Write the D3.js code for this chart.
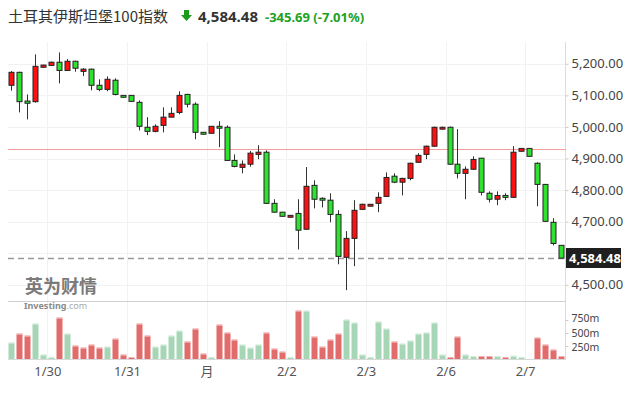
<!DOCTYPE html>
<html>
<head>
<meta charset="utf-8">
<script src="https://cdn.jsdelivr.net/npm/d3@7"></script>
<style>
  body { margin: 0; background: #fff; }
  svg { display: block; font-family: "Noto Sans", "Noto Sans CJK SC", sans-serif; }
</style>
</head>
<body>
<div id="chart"></div>
<script>
// OHLC per bar (70 bars)
const opens = [5132,5173,5082,5080,5189,5195,5205,5179,5208,5176,5183,5132,5119,5148,5100,5100,5078,4999,4986,5005,5031,5046,5103,5072,4983,4980,5002,4999,4894,4872,4882,4913,4920,4758,4730,4714,4726,4676,4815,4774,4768,4723,4587,4647,4739,4749,4758,4780,4844,4825,4837,4888,4913,4939,4993,4999,4882,4853,4866,4901,4790,4771,4783,4777,4923,4932,4885,4818,4698,4625];
const highs = [5177,5175,5103,5230,5197,5207,5236,5215,5210,5186,5185,5151,5160,5154,5101,5101,5084,5031,5008,5062,5062,5113,5105,5078,4984,5003,5018,5005,4913,4894,4924,4942,4926,4771,4731,4721,4771,4873,4831,4777,4790,4736,4670,4768,4757,4756,4793,4856,4853,4839,4887,4917,4941,5001,5001,5001,4993,4875,4907,4902,4796,4796,4790,4939,4933,4933,4888,4819,4711,4626];
const lows = [5115,5046,5024,5077,5188,5194,5138,5178,5175,5161,5116,5113,5113,5100,5093,5080,4989,4974,4983,4983,5030,5040,5062,4961,4976,4979,4936,4893,4872,4853,4874,4898,4756,4729,4716,4713,4612,4675,4742,4745,4698,4565,4483,4559,4738,4748,4730,4779,4822,4783,4831,4886,4898,4937,4992,4880,4837,4771,4864,4783,4761,4752,4768,4776,4922,4906,4749,4700,4625,4584.48];
const closes = [5173,5080,5075,5192,5196,5205,5179,5208,5186,5183,5132,5119,5151,5103,5094,5081,5002,4986,5002,5031,5043,5100,5072,4983,4977,5002,4996,4894,4875,4882,4917,4920,4758,4730,4717,4720,4673,4812,4771,4768,4723,4590,4647,4736,4755,4755,4777,4840,4825,4837,4885,4910,4939,4999,4999,4882,4853,4866,4897,4793,4771,4783,4777,4920,4932,4907,4818,4701,4631,4584.48];
// volume in millions, and bar colour (1 = red, 0 = green)
const volumes = [302,474,436,667,71,25,782,474,244,205,263,205,224,378,71,20,667,436,224,263,436,532,321,571,90,20,647,494,359,263,205,263,494,186,128,20,917,917,417,224,359,474,744,686,71,20,705,571,321,282,340,474,494,686,71,20,417,71,38,38,38,38,20,48,20,0,398,263,167,38];
const volUp = [0,1,1,0,0,0,1,0,1,1,1,1,0,1,1,1,1,1,0,0,0,0,1,1,1,0,1,1,1,0,0,0,1,1,1,0,1,0,1,1,1,1,0,0,0,0,0,0,1,0,0,0,0,0,0,1,1,0,0,1,1,0,1,0,0,0,1,1,1,1];

const xTickPos = [4.5,14.5,24.5,34.5,44.5,54.5,64.5];
const xLabels = ["1/30","1/31","月","2/2","2/3","2/6","2/7"];
const priceTicks = [4500,4600,4700,4800,4900,5000,5100,5200];
const volTicks = [250,500,750];
const prevClose = 4930.17;
const lastPrice = 4584.48;

const W = 632, H = 394;
const plotLeft = 8, plotRight = 566, plotTop = 42;

const svg = d3.select("#chart").append("svg").attr("width", W).attr("height", H);

const x = d3.scaleLinear().domain([-0.5, 69.5]).range([7.5, 565]);
const y = d3.scaleLinear().domain([4500, 5200]).range([284.8, 63.8]);
const yv = d3.scaleLinear().domain([0, 1000]).range([359, 307]);

// title
svg.append("text").attr("x", 8).attr("y", 22)
  .attr("font-family", "'Noto Sans CJK SC', sans-serif").attr("font-size", 15).attr("fill", "#333")
  .text("土耳其伊斯坦堡100指数");
svg.append("path").attr("d", "M184,10 h5 v5 h3 l-5.5,6 l-5.5,-6 h3 z").attr("fill", "#1a9c1a");
svg.append("text").attr("x", 198).attr("y", 22).attr("font-size", 15).attr("font-weight", "bold").attr("fill", "#333").text("4,584.48");
svg.append("text").attr("x", 265).attr("y", 22).attr("font-size", 13).attr("font-weight", "bold").attr("fill", "#21a121").text("-345.69 (-7.01%)");

// grid
svg.append("g").selectAll("line").data(priceTicks).join("line")
  .attr("x1", plotLeft).attr("x2", plotRight).attr("y1", d => Math.round(y(d)) + 0.5).attr("y2", d => Math.round(y(d)) + 0.5)
  .attr("stroke", "#f2f2f2");
svg.append("g").selectAll("line").data(xTickPos).join("line")
  .attr("x1", d => Math.round(x(d)) + 0.5).attr("x2", d => Math.round(x(d)) + 0.5).attr("y1", plotTop).attr("y2", 359)
  .attr("stroke", "#f2f2f2");

// panel separators
svg.append("line").attr("x1", plotLeft).attr("x2", plotRight).attr("y1", 301.5).attr("y2", 301.5).attr("stroke", "#d0d0d0");
svg.append("line").attr("x1", plotLeft).attr("x2", plotRight).attr("y1", 359.5).attr("y2", 359.5).attr("stroke", "#d8d8d8");
svg.append("line").attr("x1", plotRight - 0.5).attr("x2", plotRight - 0.5).attr("y1", plotTop).attr("y2", 360).attr("stroke", "#dcdcdc");

// watermark
svg.append("text").attr("x", 25).attr("y", 293).attr("font-family", "'Noto Sans CJK SC', sans-serif")
  .attr("font-size", 18).attr("font-weight", "bold").attr("fill", "#7a7a7a").text("英为财情");
svg.append("text").attr("x", 24).attr("y", 309).attr("font-size", 9).attr("font-weight", "bold").attr("fill", "#8a8a8a")
  .text("Investing").append("tspan").attr("font-weight", "normal").attr("fill", "#aaa").text(".com");

// previous close line
svg.append("line").attr("x1", plotLeft).attr("x2", plotRight)
  .attr("y1", Math.round(y(prevClose)) + 0.5).attr("y2", Math.round(y(prevClose)) + 0.5)
  .attr("stroke", "#f59c9c");

// volume bars
const idx = d3.range(opens.length);
const vb = svg.append("g");
vb.selectAll("rect").data(idx).join("rect")
  .attr("x", i => Math.round(x(i)) - 2.5).attr("width", 6)
  .attr("y", i => yv(volumes[i])).attr("height", i => 359 - yv(volumes[i]))
  .attr("fill", i => volUp[i] ? "#e26b6b" : "#a6d6b6");
vb.selectAll("line").data(idx.filter(i => volumes[i] > 0)).join("line")
  .attr("x1", i => Math.round(x(i)) - 2.5).attr("x2", i => Math.round(x(i)) + 3.5)
  .attr("y1", i => yv(volumes[i]) - 0.5).attr("y2", i => yv(volumes[i]) - 0.5)
  .attr("stroke", i => volUp[i] ? "#f1b0b0" : "#d3ecdc");

// last price dashed line
svg.append("line").attr("x1", plotLeft).attr("x2", plotRight)
  .attr("y1", Math.round(y(lastPrice)) + 0.5).attr("y2", Math.round(y(lastPrice)) + 0.5)
  .attr("stroke", "#999").attr("stroke-width", 1.5).attr("stroke-dasharray", "6,4");

// candles
const cg = svg.append("g");
cg.selectAll("line").data(idx).join("line")
  .attr("x1", i => Math.round(x(i)) + 0.5).attr("x2", i => Math.round(x(i)) + 0.5)
  .attr("y1", i => y(highs[i])).attr("y2", i => y(lows[i]))
  .attr("stroke", "#333");
cg.selectAll("rect").data(idx).join("rect")
  .attr("x", i => Math.round(x(i)) - 2).attr("width", 5)
  .attr("y", i => y(Math.max(opens[i], closes[i])))
  .attr("height", i => Math.max(1.5, Math.abs(y(opens[i]) - y(closes[i]))))
  .attr("fill", i => closes[i] >= opens[i] ? "#ff1010" : "#2fe22f")
  .attr("stroke", "#222").attr("stroke-width", 1);

// axes (4,600 label sits under the last-price tag, so it is not drawn)
const yAxis = svg.append("g").attr("transform", `translate(${plotRight - 0.5},0)`)
  .call(d3.axisRight(y).tickValues(priceTicks.filter(d => d !== 4600)).tickFormat(d3.format(",.2f")).tickSize(3).tickPadding(3));
yAxis.selectAll(".tick text").attr("font-size", 13);
const vAxis = svg.append("g").attr("transform", `translate(${plotRight - 0.5},0)`)
  .call(d3.axisRight(yv).tickValues(volTicks).tickFormat(d => d + "m").tickSize(3).tickPadding(3));
// labels are packed tightly; spread them a little so they do not collide
vAxis.selectAll(".tick text").attr("font-size", 10.5).attr("dy", (d, i) => (0.32 + (1 - i) * 0.15) + "em");
[yAxis, vAxis].forEach(g => {
  g.select(".domain").remove();
  g.selectAll(".tick line").attr("stroke", "#ccc");
  g.selectAll(".tick text").attr("fill", "#444").attr("font-family", "'Noto Sans', sans-serif");
});

const xAxis = svg.append("g").attr("transform", "translate(0,360)")
  .call(d3.axisBottom(x).tickValues(xTickPos).tickFormat((d, i) => xLabels[i]).tickSize(0).tickPadding(7));
xAxis.select(".domain").remove();
xAxis.selectAll(".tick text").attr("font-size", 13).attr("fill", "#555").attr("font-family", "'Noto Sans', 'Noto Sans CJK SC', sans-serif");

// last price tag
const tagY = Math.round(y(lastPrice));
svg.append("rect").attr("x", 566).attr("y", tagY - 10).attr("width", 55).attr("height", 20).attr("fill", "#1f1f1f");
svg.append("text").attr("x", 569).attr("y", tagY + 5).attr("font-size", 13).attr("font-weight", "bold").attr("fill", "#fff").text("4,584.48");
</script>
</body>
</html>
